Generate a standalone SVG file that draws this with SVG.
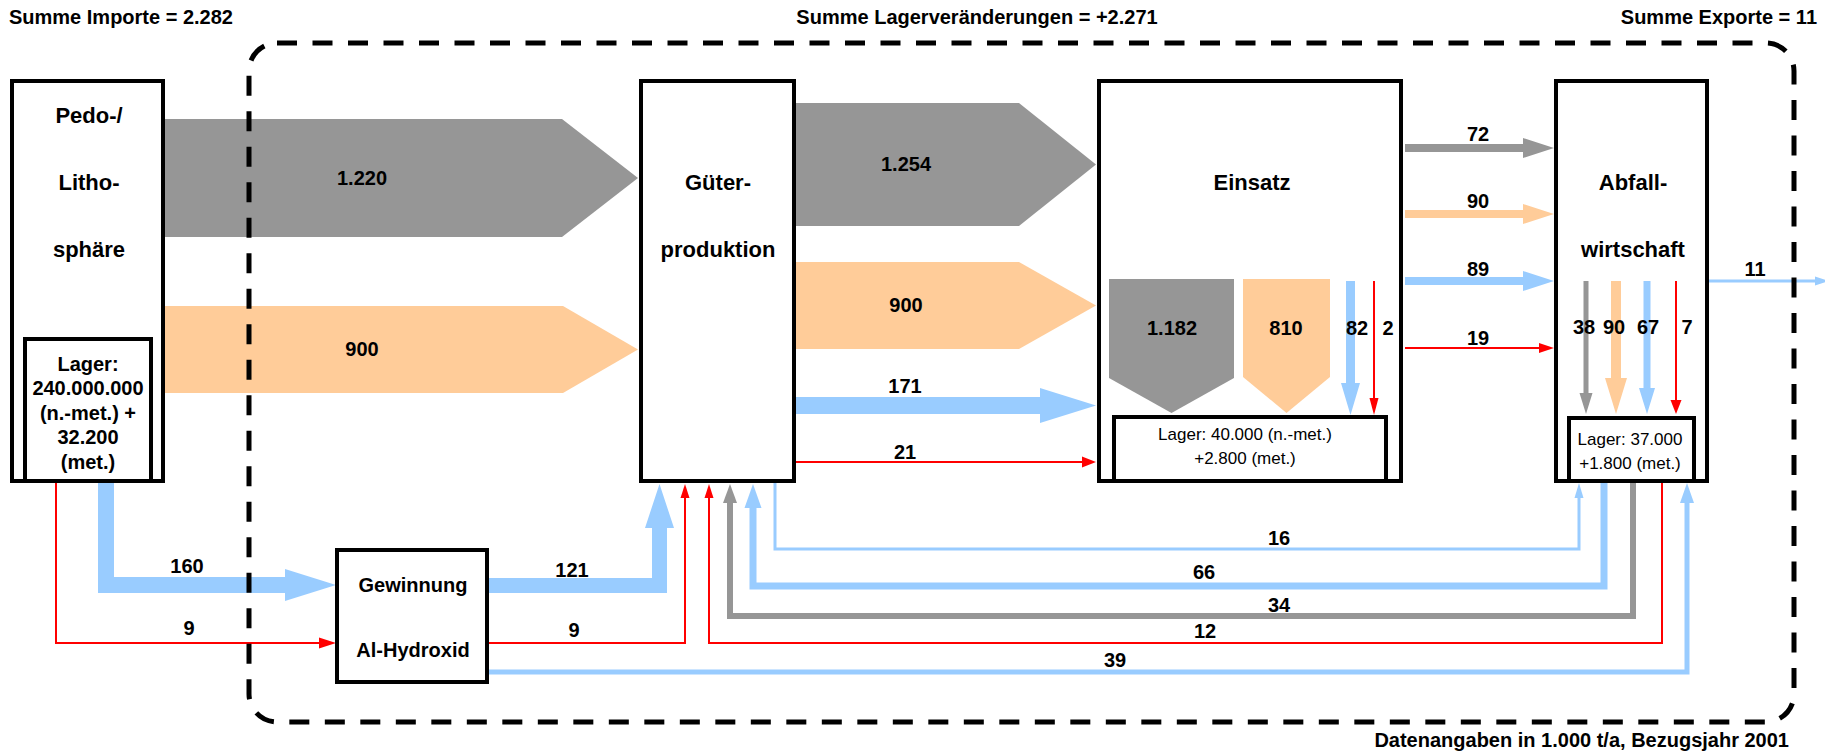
<svg xmlns="http://www.w3.org/2000/svg" width="1825" height="755" viewBox="0 0 1825 755">
<style>
.bg{fill:#fff}
.box{fill:#fff;stroke:#000;stroke-width:4}
.inner{fill:none;stroke:#000;stroke-width:4}
.bound{fill:none;stroke:#000;stroke-width:5;stroke-dasharray:20 15.5}
.g{fill:#969696}
.o{fill:#FFCC99}
.b{fill:#99CCFF}
.r{fill:#FF0000}
.ls{fill:none;stroke-linejoin:miter;stroke-linecap:butt}
.lr{stroke:#FF0000;stroke-width:2}
.lb{stroke:#99CCFF}
.lg{stroke:#969696}
text{font-family:"Liberation Sans",Arial,sans-serif;fill:#000}
.t{font-size:20px;font-weight:bold;text-anchor:middle}
.n{font-size:22px;font-weight:bold;text-anchor:middle}
.lt{font-size:17px;text-anchor:middle}
.h{font-size:20px;font-weight:bold}
</style>
<rect class="bg" x="0" y="0" width="1825" height="755"/>
<g id="headers">
<text class="h" x="9" y="24">Summe Importe = 2.282</text>
<text class="h" x="977" y="24" text-anchor="middle">Summe Lagerveränderungen = +2.271</text>
<text class="h" x="1817" y="24" text-anchor="end">Summe Exporte = 11</text>
<text class="h" x="1789" y="747" text-anchor="end">Datenangaben in 1.000 t/a, Bezugsjahr 2001</text>
</g>
<g id="connectors">
<path class="g" d="M165,119 H562 L638,178 L562,237 H165 Z"/>
<path class="o" d="M165,306 H563 L638,349.5 L563,393 H165 Z"/>
<path class="g" d="M796,103 H1019 L1096,164.5 L1019,226 H796 Z"/>
<path class="o" d="M796,262 H1019 L1096,305.5 L1019,349 H796 Z"/>
<path class="b" d="M796,397 H1040 V388 L1096,405.5 L1040,423 V414 H796 Z"/>
<path class="ls lr" d="M796,462 H1083"/>
<path class="r" d="M1082,456.5 L1096,462 L1082,467.5 Z"/>
<path class="g" d="M1109,279 H1234 V378 L1171.5,413 L1109,378 Z"/>
<path class="o" d="M1243,279 H1330 V377 L1286.5,413 L1243,377 Z"/>
<path class="b" d="M1346,281 H1355 V383 H1360 L1350.5,415 L1341,383 H1346 Z"/>
<path class="ls lr" d="M1374,281 V399"/>
<path class="r" d="M1369.5,398 H1378.5 L1374,415 Z"/>
<path class="g" d="M1405,144 H1523 V138 L1554,148 L1523,158 V152 H1405 Z"/>
<path class="o" d="M1405,210 H1523 V204 L1554,214 L1523,224 V218 H1405 Z"/>
<path class="b" d="M1405,277 H1523 V271 L1554,281 L1523,291 V285 H1405 Z"/>
<path class="ls lr" d="M1405,348 H1540"/>
<path class="r" d="M1539,343 L1554,348 L1539,353 Z"/>
<path class="g" d="M1583.5,281 H1588.5 V393 H1592.5 L1586,414 L1579.5,393 H1583.5 Z"/>
<path class="o" d="M1611,281 H1621 V378 H1627 L1616,414 L1605,378 H1611 Z"/>
<path class="b" d="M1643.5,281 H1650.5 V388 H1655 L1647,414 L1639,388 H1643.5 Z"/>
<path class="ls lr" d="M1676,281 V401"/>
<path class="r" d="M1670.5,400 H1681.5 L1676,414 Z"/>
<path class="ls lb" stroke-width="3" d="M1709,281 H1816"/>
<path class="b" d="M1815,276.5 L1829,281 L1815,285.5 Z"/>
<path class="ls lr" d="M56,483 V643 H320"/>
<path class="r" d="M319,637.5 L336,643 L319,648.5 Z"/>
<path class="b" d="M98,483 H114 V577 H285 V569 L336,585 L285,601 V593 H98 Z"/>
<path class="b" d="M489,578 H652 V528 H645 L659.5,484 L674,528 H667 V593 H489 Z"/>
<path class="ls lr" d="M489,643 H685 V497"/>
<path class="r" d="M680.5,498 H689.5 L685,484 Z"/>
<path class="ls lr" d="M1662,483 V643 H709 V497"/>
<path class="r" d="M704.5,498 H713.5 L709,484 Z"/>
<path class="ls lg" stroke-width="6" d="M1633,483 V616 H730 V502"/>
<path class="g" d="M723,503 H737 L730,484 Z"/>
<path class="ls lb" stroke-width="7" d="M1604,483 V586 H753 V507"/>
<path class="b" d="M744.5,508 H761.5 L753,484 Z"/>
<path class="ls lb" stroke-width="3" d="M775,483 V549 H1579 V497"/>
<path class="b" d="M1574.5,498 H1583.5 L1579,483 Z"/>
<path class="ls lb" stroke-width="5" d="M489,672 H1687 V502"/>
<path class="b" d="M1680,503 H1694 L1687,483 Z"/>
</g>
<g id="systemgrenze">
<rect class="bound" x="249" y="43" width="1545" height="679" rx="28" ry="28"/>
</g>
<g id="flow-labels">
<text class="t" x="362" y="185">1.220</text>
<text class="t" x="362" y="356">900</text>
<text class="t" x="906" y="171">1.254</text>
<text class="t" x="906" y="312">900</text>
<text class="t" x="905" y="393">171</text>
<text class="t" x="905" y="459">21</text>
<text class="t" x="1172" y="335">1.182</text>
<text class="t" x="1286" y="335">810</text>
<text class="t" x="1357" y="335">82</text>
<text class="t" x="1388" y="335">2</text>
<text class="t" x="1478" y="141">72</text>
<text class="t" x="1478" y="208">90</text>
<text class="t" x="1478" y="276">89</text>
<text class="t" x="1478" y="345">19</text>
<text class="t" x="1584" y="334">38</text>
<text class="t" x="1614" y="334">90</text>
<text class="t" x="1648" y="334">67</text>
<text class="t" x="1687" y="334">7</text>
<text class="t" x="1755" y="276">11</text>
<text class="t" x="187" y="573">160</text>
<text class="t" x="189" y="635">9</text>
<text class="t" x="572" y="577">121</text>
<text class="t" x="574" y="637">9</text>
<text class="t" x="1279" y="545">16</text>
<text class="t" x="1204" y="579">66</text>
<text class="t" x="1279" y="612">34</text>
<text class="t" x="1205" y="638">12</text>
<text class="t" x="1115" y="667">39</text>
</g>
<g id="node-pedo">
<rect class="box" x="12" y="81" width="151" height="400" style="fill:none"/>
<text class="n" x="89" y="123">Pedo-/</text>
<text class="n" x="89" y="190">Litho-</text>
<text class="n" x="89" y="257">sphäre</text>
<rect class="inner" x="25" y="339" width="126" height="142"/>
<text class="t" x="88" y="371">Lager:</text>
<text class="t" x="88" y="395">240.000.000</text>
<text class="t" x="88" y="420">(n.-met.) +</text>
<text class="t" x="88" y="444">32.200</text>
<text class="t" x="88" y="469">(met.)</text>
</g>
<g id="node-gueter">
<rect class="box" x="641" y="81" width="153" height="400" style="fill:none"/>
<text class="n" x="718" y="190">Güter-</text>
<text class="n" x="718" y="257">produktion</text>
</g>
<g id="node-einsatz">
<rect class="box" x="1099" y="81" width="302" height="400" style="fill:none"/>
<text class="n" x="1252" y="190">Einsatz</text>
<rect class="inner" x="1114" y="417" width="272" height="64"/>
<text class="lt" x="1245" y="440">Lager: 40.000 (n.-met.)</text>
<text class="lt" x="1245" y="464">+2.800 (met.)</text>
</g>
<g id="node-abfall">
<rect class="box" x="1556" y="81" width="151" height="400" style="fill:none"/>
<text class="n" x="1633" y="190">Abfall-</text>
<text class="n" x="1633" y="257">wirtschaft</text>
<rect class="inner" x="1569" y="418" width="125" height="63"/>
<text class="lt" x="1630" y="445">Lager: 37.000</text>
<text class="lt" x="1630" y="469">+1.800 (met.)</text>
</g>
<g id="node-gewinnung">
<rect class="box" x="337" y="550" width="150" height="132"/>
<text class="t" x="413" y="592">Gewinnung</text>
<text class="t" x="413" y="657">Al-Hydroxid</text>
</g>
</svg>
